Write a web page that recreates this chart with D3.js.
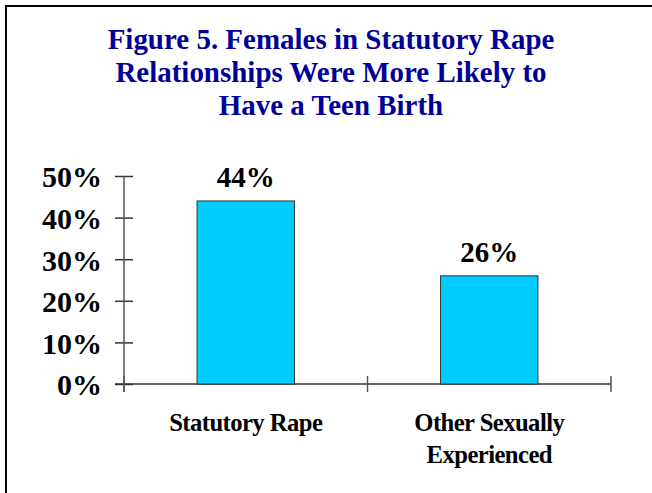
<!DOCTYPE html>
<html>
<head>
<meta charset="utf-8">
<script src="https://cdn.jsdelivr.net/npm/d3@7"></script>
<style>
  body { margin: 0; background: #fff; }
  text { font-family: "Liberation Serif", "Times New Roman", serif; font-weight: bold; }
</style>
</head>
<body>
<svg id="chart" width="652" height="493"></svg>
<script>
// chart data
var categories = ["Statutory Rape", "Other Sexually\nExperienced"];
var values = [44, 26];
var tickValues = [0, 10, 20, 30, 40, 50];
var titleLines = ["Figure 5. Females in Statutory Rape", "Relationships Were More Likely to", "Have a Teen Birth"];

var svg = d3.select("#chart");

// frame (runs off right and bottom edge)
svg.append("path")
  .attr("d", "M6,500 L6,6 L660,6")
  .attr("fill", "none")
  .attr("stroke", "#000")
  .attr("stroke-width", 2);

svg.append("g")
  .selectAll("text")
  .data(titleLines)
  .join("text")
  .attr("transform", (d, i) => "translate(331," + (49 + i * 33) + ") scale(0.95,1)")
  .attr("text-anchor", "middle")
  .attr("fill", "#000099")
  .attr("font-size", 30.5)
  .text((d) => d);

var x = d3.scaleBand()
  .domain(categories)
  .range([124, 611])
  .paddingInner(0.6)
  .paddingOuter(0.3);

var y = d3.scaleLinear()
  .domain([0, 50])
  .range([384, 176]);

// y axis
var yAxis = svg.append("g")
  .attr("transform", "translate(124,0)")
  .call(d3.axisLeft(y).tickValues(tickValues).tickSize(9).tickSizeOuter(0).tickFormat((d) => d + "%"));
yAxis.select(".domain").remove();
yAxis.append("line")
  .attr("y1", 176).attr("y2", 392)
  .attr("stroke", "#555").attr("stroke-width", 1.5);
yAxis.selectAll(".tick line").attr("x1", -9).attr("x2", 9).attr("stroke", "#333").attr("stroke-width", 1.5);
yAxis.selectAll(".tick text")
  .attr("x", -22)
  .attr("dy", "0.36em")
  .attr("font-size", 30)
  .attr("fill", "#000")
  .attr("font-family", null);

// x axis
var xAxis = svg.append("g");
xAxis.append("line")
  .attr("x1", 115).attr("x2", 611)
  .attr("y1", 384).attr("y2", 384)
  .attr("stroke", "#333").attr("stroke-width", 1.5);
var bounds = [124, 124 + x.step(), 611];
xAxis.selectAll("line.xt")
  .data(bounds)
  .join("line")
  .attr("class", "xt")
  .attr("x1", (d) => d).attr("x2", (d) => d)
  .attr("y1", 376).attr("y2", 392)
  .attr("stroke", "#555").attr("stroke-width", 1.5);

// bars
svg.append("g")
  .selectAll("rect")
  .data(values)
  .join("rect")
  .attr("x", (d, i) => x(categories[i]))
  .attr("y", (d) => y(d))
  .attr("width", x.bandwidth())
  .attr("height", (d) => y(0) - y(d))
  .attr("fill", "#00ccff")
  .attr("stroke", "#333")
  .attr("stroke-width", 1);

// value labels
svg.append("g")
  .selectAll("text")
  .data(values)
  .join("text")
  .attr("x", (d, i) => x(categories[i]) + x.bandwidth() / 2)
  .attr("y", (d) => y(d) - 14)
  .attr("text-anchor", "middle")
  .attr("font-size", 29)
  .text((d) => d + "%");

// category labels
var cat = svg.append("g")
  .selectAll("text")
  .data(categories)
  .join("text")
  .attr("transform", (d) => "translate(" + (x(d) + x.bandwidth() / 2) + ",431) scale(0.95,1)")
  .attr("text-anchor", "middle")
  .attr("font-size", 26)
  .attr("letter-spacing", -0.6);
cat.selectAll("tspan")
  .data((d) => d.split("\n"))
  .join("tspan")
  .attr("x", 0)
  .attr("dy", (d, i) => (i === 0 ? 0 : 32))
  .text((d) => d);
</script>
</body>
</html>
